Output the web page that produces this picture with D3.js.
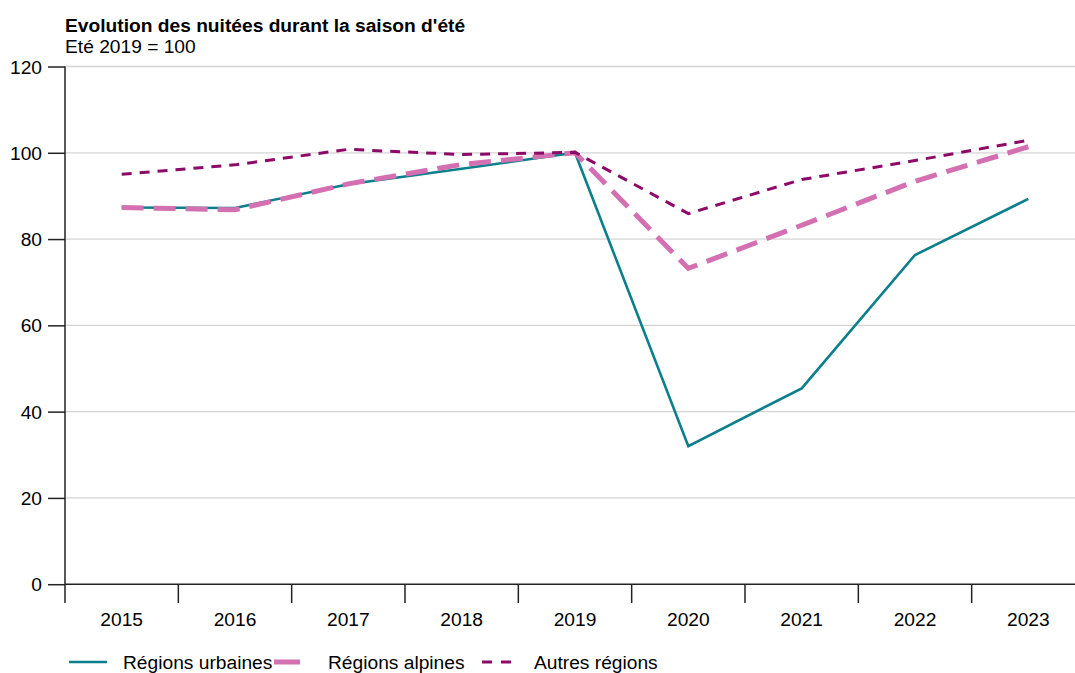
<!DOCTYPE html>
<html><head><meta charset="utf-8">
<script src="https://cdn.jsdelivr.net/npm/d3@7"></script>
<style>body{margin:0;background:#fff;font-family:"Liberation Sans",Arial,sans-serif;}</style>
</head><body><svg id="c" width="1075" height="673"></svg>
<script>
const years = ["2015","2016","2017","2018","2019","2020","2021","2022","2023"];
const urbaines = [87.3, 87.2, 92.7, 96.3, 100, 32.0, 45.4, 76.3, 89.3];
const alpines = [87.3, 86.8, 92.8, 97.3, 100, 73.2, 83.2, 93.4, 101.4];
const autres = [95.0, 97.2, 100.8, 99.6, 100.1, 85.9, 93.8, 98.2, 102.9];
const yTicks = [0, 20, 40, 60, 80, 100, 120];
const seriesNames = ["Régions urbaines", "Régions alpines", "Autres régions"];

(function(){
const svg = d3.select("#c");
const pL = 65, pR = 1085, pT = 66.5, pB = 584.2;
const x = d3.scaleBand().domain(years).range([pL, pR]);
const y = d3.scaleLinear().domain([0, 120]).range([pB, pT]);
const font = '"Liberation Sans", Arial, sans-serif';
const fs = 19.2;

svg.append("text").attr("x", 65).attr("y", 31.5).attr("font-family", font)
  .attr("font-size", fs).attr("font-weight", "bold").attr("fill", "#000")
  .text("Evolution des nuitées durant la saison d'été");
svg.append("text").attr("x", 65).attr("y", 52.5).attr("font-family", font)
  .attr("font-size", fs).attr("fill", "#000").text("Eté 2019 = 100");

// gridlines
svg.append("g").selectAll("line").data(yTicks.filter(d => d > 0)).join("line")
  .attr("x1", pL).attr("x2", 1075).attr("y1", d => y(d)).attr("y2", d => y(d))
  .attr("stroke", "#d4d4d4").attr("stroke-width", 1.3);

// y axis
const ya = svg.append("g").attr("transform", `translate(${pL},0)`)
  .call(d3.axisLeft(y).tickValues(yTicks).tickSize(17).tickPadding(6));
ya.select(".domain").remove();
ya.selectAll(".tick line").attr("stroke", "#222").attr("stroke-width", 1.5);
ya.selectAll("text").attr("font-family", font).attr("font-size", fs).attr("fill", "#000")
  .attr("dy", "0.34em");
svg.append("line").attr("x1", pL).attr("x2", pL).attr("y1", pT).attr("y2", 603)
  .attr("stroke", "#222").attr("stroke-width", 1.5);

// x axis
svg.append("line").attr("x1", pL).attr("x2", 1075).attr("y1", pB).attr("y2", pB)
  .attr("stroke", "#222").attr("stroke-width", 1.5);
const bounds = years.map(d => x(d)).slice(1);
svg.append("g").selectAll("line").data(bounds).join("line")
  .attr("x1", d => d).attr("x2", d => d).attr("y1", pB).attr("y2", 603)
  .attr("stroke", "#222").attr("stroke-width", 1.5);
svg.append("g").selectAll("text").data(years).join("text")
  .attr("x", d => x(d) + x.bandwidth() / 2).attr("y", 626).attr("text-anchor", "middle")
  .attr("font-family", font).attr("font-size", fs).attr("fill", "#000").text(d => d);

const line = d3.line().x((d, i) => x(years[i]) + x.bandwidth() / 2).y(d => y(d));
const styles = [
  {data: urbaines, color: "#0b7f8c", w: 2.6, dash: null},
  {data: alpines, color: "#d46fb1", w: 5, dash: "22,10"},
  {data: autres, color: "#8e0a68", w: 3, dash: "10,8"}
];
styles.forEach(s => {
  svg.append("path").datum(s.data).attr("d", line).attr("fill", "none")
    .attr("stroke", s.color).attr("stroke-width", s.w)
    .attr("stroke-dasharray", s.dash).attr("stroke-linejoin", "miter");
});

// legend
const leg = [
  {x1: 69, x2: 107, tx: 123},
  {x1: 274, x2: 300, tx: 328},
  {x1: 482, x2: 512, tx: 534}
];
leg.forEach((l, i) => {
  const s = styles[i];
  svg.append("line").attr("x1", l.x1).attr("x2", l.x2).attr("y1", 662).attr("y2", 662)
    .attr("stroke", s.color).attr("stroke-width", s.w)
    .attr("stroke-dasharray", i === 2 ? "10,9" : null);
  svg.append("text").attr("x", l.tx).attr("y", 669).attr("font-family", font)
    .attr("font-size", fs).attr("fill", "#000").text(seriesNames[i]);
});
})();
</script></body></html>
